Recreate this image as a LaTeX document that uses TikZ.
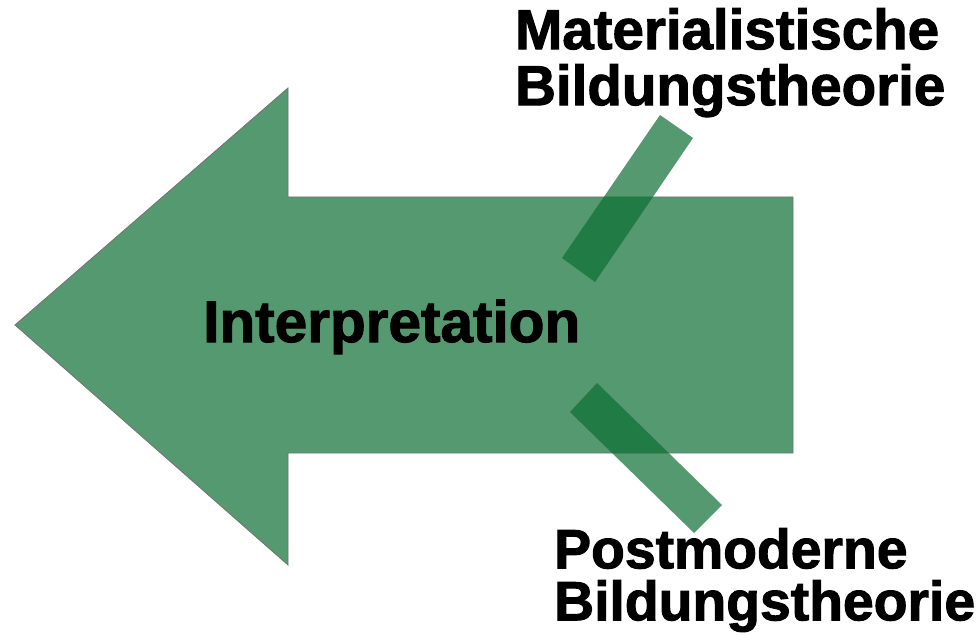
\documentclass[tikz,border=0pt]{standalone}
\usepackage{fontspec}
\setmainfont{Liberation Sans}
\newfontfamily\heavy[FakeBold=1.8]{Liberation Sans Bold}
\definecolor{arrowgreen}{RGB}{12,111,51}
\begin{document}
\begin{tikzpicture}[x=1pt,y=-1pt,
  shape fill/.style={fill=arrowgreen,fill opacity=0.7},
  label text/.style={inner sep=0pt,align=left,text=black}]
\useasboundingbox (0,0) rectangle (979,636);
\fill[white] (0,0) rectangle (979,636);
% big arrow
\draw[shape fill,draw=black!55,line width=0.8pt]
  (15,325) -- (288,88) -- (288,197) -- (793,197) -- (793,453) -- (288,453) -- (288,565) -- cycle;
% bars
\fill[shape fill] (660,115) -- (693,138) -- (595,282) -- (562,258) -- cycle;
\fill[shape fill] (597,383) -- (722,505) -- (694,533) -- (570,412) -- cycle;
% labels
\node[label text,font=\heavy\fontsize{58.5}{58}\selectfont,anchor=base west] (interp) at (203,342) {Interpretation};
\node[label text,font=\heavy\fontsize{56.5}{56}\selectfont,anchor=north west] (mat) at (515,8) {Materialistische\\Bildungstheorie};
\node[label text,font=\heavy\fontsize{55.3}{52}\selectfont,anchor=north west] (post) at (554,528) {Postmoderne\\Bildungstheorie};
\end{tikzpicture}
\end{document}
